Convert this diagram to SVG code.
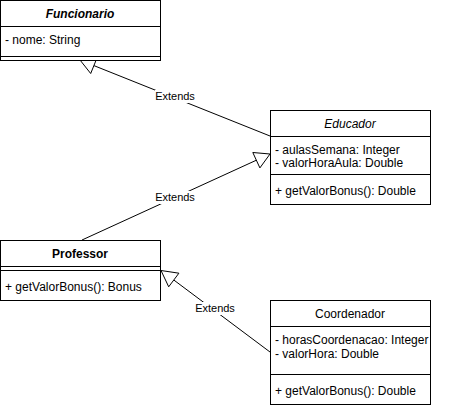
<svg xmlns="http://www.w3.org/2000/svg" width="451" height="408" viewBox="0 0 451 408">
<style>
.box{fill:#fff;stroke:#000;stroke-width:1}
.div{stroke:#000;stroke-width:1}
text{font-family:"Liberation Sans",Arial,Helvetica,sans-serif;font-size:12px;fill:#000}
.t{text-anchor:middle}
.lbl{font-size:11px;text-anchor:middle}
.edge{stroke:#000;stroke-width:1;fill:none}
.head{fill:#fff;stroke:#000;stroke-width:1}
.bg{fill:#fff}
</style>
<rect width="451" height="408" fill="#fff"/>
<g id="connectors">
<line class="edge" x1="270" y1="136" x2="93.9" y2="65.6"/>
<polygon class="head" points="80,60 97.1,57.7 90.7,73.5"/>
<rect class="bg" x="155" y="90" width="40" height="13"/>
<text class="lbl" x="175" y="100">Extends</text>
<line class="edge" x1="82" y1="240" x2="256.4" y2="160.2"/>
<polygon class="head" points="270,154 259.9,167.9 252.8,152.5"/>
<rect class="bg" x="155" y="191" width="40" height="13"/>
<text class="lbl" x="175" y="201">Extends</text>
<line class="edge" x1="270" y1="352" x2="173.8" y2="280"/>
<polygon class="head" points="161,270.5 168.7,286.8 178.9,273.2"/>
<rect class="bg" x="195" y="302" width="40" height="13"/>
<text class="lbl" x="215" y="312">Extends</text>
</g>
<g id="Funcionario">
<rect class="box" x="0.5" y="0.5" width="160" height="60"/>
<line class="div" x1="0.5" y1="26.5" x2="160.5" y2="26.5"/>
<line class="div" x1="0.5" y1="56.5" x2="160.5" y2="56.5"/>
<text class="t" x="80" y="18.3" font-weight="bold" font-style="italic">Funcionario</text>
<text x="5" y="44.3">- nome: String</text>
</g>
<g id="Educador">
<rect class="box" x="270.5" y="110.5" width="160" height="94"/>
<line class="div" x1="270.5" y1="136.5" x2="430.5" y2="136.5"/>
<line class="div" x1="270.5" y1="174.5" x2="430.5" y2="174.5"/>
<text class="t" x="350" y="127.5" font-style="italic">Educador</text>
<text x="275" y="153.6">- aulasSemana: Integer</text>
<text x="275" y="167">- valorHoraAula: Double</text>
<text x="275" y="195">+ getValorBonus(): Double</text>
</g>
<g id="Professor">
<rect class="box" x="0.5" y="240.5" width="160" height="60"/>
<line class="div" x1="0.5" y1="266.5" x2="160.5" y2="266.5"/>
<line class="div" x1="0.5" y1="270.5" x2="160.5" y2="270.5"/>
<text class="t" x="80" y="258.3" font-weight="bold">Professor</text>
<text x="5" y="291">+ getValorBonus(): Bonus</text>
</g>
<g id="Coordenador">
<rect class="box" x="270.5" y="300.5" width="160" height="104"/>
<line class="div" x1="270.5" y1="326.5" x2="430.5" y2="326.5"/>
<line class="div" x1="270.5" y1="374.5" x2="430.5" y2="374.5"/>
<text class="t" x="350" y="318.3">Coordenador</text>
<text x="275" y="344.3">- horasCoordenacao: Integer</text>
<text x="275" y="357.6">- valorHora: Double</text>
<text x="275" y="395">+ getValorBonus(): Double</text>
</g>
</svg>
